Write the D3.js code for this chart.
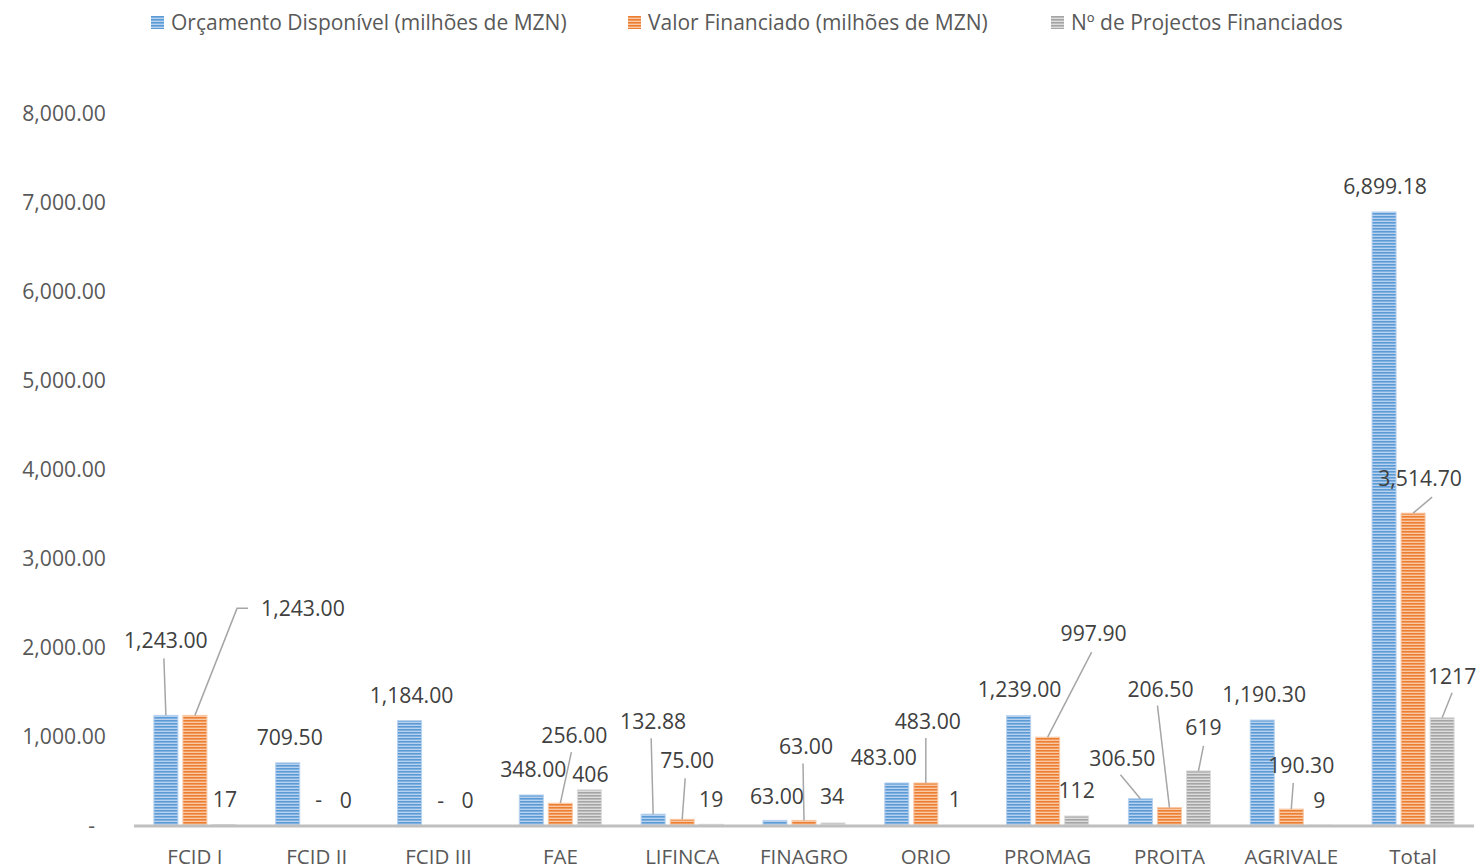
<!DOCTYPE html>
<html>
<head>
<meta charset="utf-8">
<script src="https://cdn.jsdelivr.net/npm/d3@7"></script>
<style>
  html, body { margin: 0; padding: 0; background: #fff; }
  svg { display: block; font-family: "Open Sans", sans-serif; }
</style>
</head>
<body>
<div id="chart"></div>
<script>
// dados
const categories = ['FCID I', 'FCID II', 'FCID III', 'FAE', 'LIFINCA', 'FINAGRO', 'ORIO', 'PROMAG', 'PROITA', 'AGRIVALE', 'Total']
const orcamento = [1243.00, 709.50, 1184.00, 348.00, 132.88, 63.00, 483.00, 1239.00, 306.50, 1190.30, 6899.18]
const valorFinanciado = [1243.00, 0, 0, 256.00, 75.00, 63.00, 483.00, 997.90, 206.50, 190.30, 3514.70]
const nProjectos = [17, 0, 0, 406, 19, 34, 1, 112, 619, 9, 1217]
const seriesNames = ['Orçamento Disponível (milhões de MZN)', 'Valor Financiado (milhões de MZN)', 'Nº de Projectos Financiados']
const yTicks = [0, 1000, 2000, 3000, 4000, 5000, 6000, 7000, 8000]

// posição dos rótulos (desvio em px do topo da barra) e linhas de chamada
const labelOffsets = [
  [[0, -75], [2, -25], [2, -25], [2, -25], [0, -93], [2, -24], [-13, -25], [1, -26], [-18, -40], [2, -25], [1, -25]],
  [[108, -107], [2, -26], [2, -25], [14, -68], [5, -59], [2, -74], [2, -61], [46, -104], [-9, -118], [10, -43], [7, -35]],
  [[1, -25], [0, -25], [0, -25], [1, -15], [0, -25], [-1, -26], [0, -26], [0, -25], [5, -43], [-1, -25], [10, -41]]
]
// início da linha de chamada relativo ao centro do rótulo (null = sem linha, 'elbow' = com cotovelo)
const leaders = [
  [[-2, 18], null, null, null, [-2, 17], null, null, null, [-2, 16], null, null],
  ['elbow', null, null, [-3, 17], [-2, 18], [-3, 17], [-2, 16], [-2, 19], [-3, 16], [-8, 17], [12, 19]],
  [null, null, null, null, null, null, null, null, [0, 18], null, [0, 16]]
]

const colors = [
  { dark: '#5b9bd5', light: '#b7d1ef' },
  { dark: '#ed7d31', light: '#f9c9a6' },
  { dark: '#a5a5a5', light: '#dcdcdc' }
]

const width = 1481
const height = 868
const margin = { top: 114, left: 134, right: 7, bottom: 42 }

const svg = d3.select('#chart')
  .append('svg')
  .attr('width', width)
  .attr('height', height)

// padrões listrados
const defs = svg.append('defs')
colors.forEach((c, k) => {
  const p = defs.append('pattern')
    .attr('id', 'stripe' + k)
    .attr('patternUnits', 'userSpaceOnUse')
    .attr('width', 6)
    .attr('height', 3)
  p.append('rect').attr('width', 6).attr('height', 3).attr('fill', c.light)
  p.append('rect').attr('width', 6).attr('height', 1.6).attr('fill', c.dark)
})

const x0 = d3.scaleBand()
  .domain(categories)
  .range([margin.left, width - margin.right])
  .paddingInner(0.318)
  .paddingOuter(0.159)

const x1 = d3.scaleBand()
  .domain([0, 1, 2])
  .range([0, x0.bandwidth()])
  .paddingInner(0.138)

const y = d3.scaleLinear()
  .domain([0, 8000])
  .range([height - margin.bottom, margin.top])

// eixo y
const fmt = d3.format(',.2f')
const yAxis = d3.axisLeft(y)
  .tickValues(yTicks)
  .tickSize(0)
  .tickPadding(28)
  .tickFormat(d => d === 0 ? '-' : fmt(d))
const gy = svg.append('g')
  .attr('transform', 'translate(' + margin.left + ',0)')
  .call(yAxis)
gy.select('.domain').remove()
gy.selectAll('text')
  .attr('font-size', 21.2)
  .attr('font-family', '"Open Sans", sans-serif')
  .attr('fill', '#595959')
  .attr('dx', d => d === 0 ? -11 : 0)

// barras
const series = [orcamento, valorFinanciado, nProjectos]
series.forEach((vals, k) => {
  svg.append('g')
    .selectAll('rect')
    .data(vals)
    .enter()
    .append('rect')
    .attr('x', (d, i) => x0(categories[i]) + x1(k) + 0.5)
    .attr('y', d => y(d))
    .attr('width', x1.bandwidth() - 1)
    .attr('height', d => y(0) - y(d))
    .attr('fill', 'url(#stripe' + k + ')')
    .attr('stroke', d => d > 0 ? colors[k].light : 'none')
    .attr('stroke-width', 1)
})

// eixo x
svg.append('line')
  .attr('x1', margin.left)
  .attr('x2', width - margin.right)
  .attr('y1', y(0))
  .attr('y2', y(0))
  .attr('stroke', '#bfbfbf')
  .attr('stroke-width', 3)

svg.append('g')
  .selectAll('text')
  .data(categories)
  .enter()
  .append('text')
  .attr('x', d => x0(d) + x0.bandwidth() / 2)
  .attr('y', height - 4)
  .attr('text-anchor', 'middle')
  .attr('font-size', 20.5)
  .attr('fill', '#595959')
  .text(d => d)

// rótulos de dados
const labelFmt = [
  d => d === 0 ? '-' : fmt(d),
  d => d === 0 ? '-' : fmt(d),
  d => String(d)
]
const gLead = svg.append('g')
const gLab = svg.append('g')
series.forEach((vals, k) => {
  vals.forEach((v, i) => {
    const bx = x0(categories[i]) + x1(k) + x1.bandwidth() / 2
    const by = y(v)
    const [dx, dy] = labelOffsets[k][i]
    const lx = bx + dx
    const ly = by + dy
    const t = gLab.append('text')
      .attr('x', lx)
      .attr('y', ly)
      .attr('dy', '0.35em')
      .attr('text-anchor', 'middle')
      .attr('font-size', 21.2)
      .attr('fill', '#404040')
      .text(labelFmt[k](v))
    const lead = leaders[k][i]
    if (lead === 'elbow') {
      const left = lx - t.node().getComputedTextLength() / 2
      gLead.append('path')
        .attr('d', d3.line()([[left - 13, ly], [left - 24, ly], [bx, by]]))
        .attr('fill', 'none')
        .attr('stroke', '#a6a6a6')
        .attr('stroke-width', 1.5)
    } else if (lead) {
      gLead.append('line')
        .attr('x1', lx + lead[0])
        .attr('y1', ly + lead[1])
        .attr('x2', bx)
        .attr('y2', by)
        .attr('stroke', '#a6a6a6')
        .attr('stroke-width', 1.5)
    }
  })
})

// legenda
const legendX = [151, 628, 1051]
const legend = svg.append('g')
seriesNames.forEach((name, k) => {
  const g = legend.append('g').attr('transform', 'translate(' + legendX[k] + ',16)')
  g.append('rect')
    .attr('width', 13)
    .attr('height', 13)
    .attr('fill', 'url(#stripe' + k + ')')
  g.append('text')
    .attr('x', 20)
    .attr('y', 7)
    .attr('dy', '0.35em')
    .attr('font-size', 21)
    .attr('fill', '#595959')
    .text(name)
})
</script>
</body>
</html>
